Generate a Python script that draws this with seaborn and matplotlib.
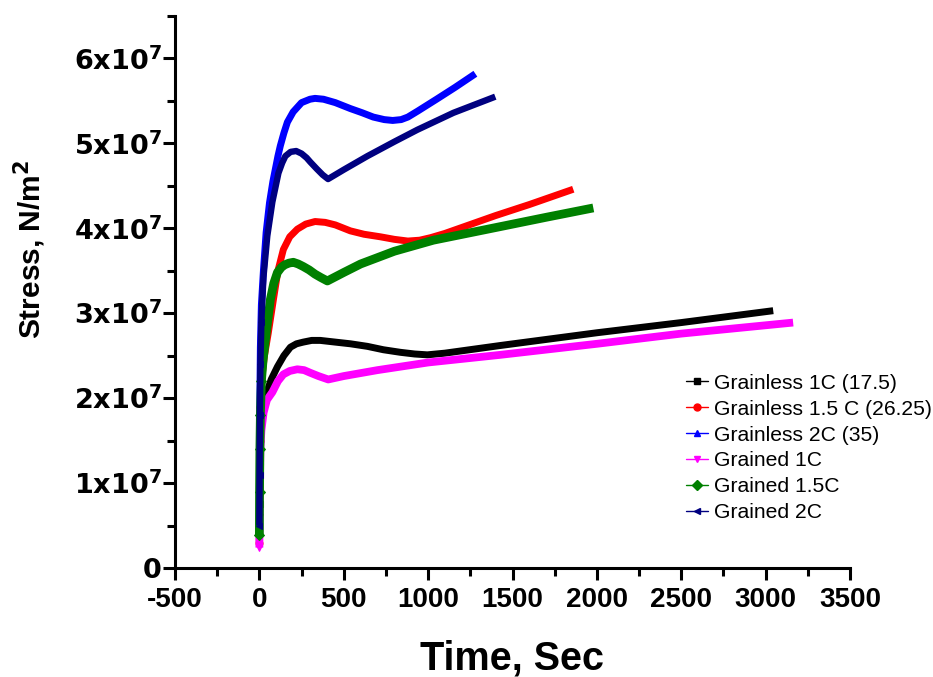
import numpy as np
import pandas as pd
import matplotlib
matplotlib.use("Agg")
import matplotlib.pyplot as plt
import seaborn as sns
from matplotlib.lines import Line2D
from matplotlib.ticker import MultipleLocator, FuncFormatter


# -----------------------------
# 1. Data (time in s, stress in x10^7 N/m^2)
# -----------------------------
labels = [
    "Grainless 1C (17.5)",
    "Grainless 1.5 C (26.25)",
    "Grainless 2C (35)",
    "Grained 1C",
    "Grained 1.5C",
    "Grained 2C",
]

t_grainless_1c = [0, 1, 3, 6, 10, 18, 36, 70, 107, 145, 184, 220, 260, 310, 361, 450, 540, 640, 735, 835, 920, 995, 1100, 1428, 2000, 2500, 3045]
s_grainless_1c = [0.30, 0.75, 1.20, 1.50, 1.70, 1.88, 2.02, 2.22, 2.37, 2.50, 2.60, 2.64, 2.66, 2.68, 2.68, 2.66, 2.64, 2.61, 2.57, 2.54, 2.52, 2.51, 2.53, 2.62, 2.77, 2.89, 3.03]

t_grainless_15c = [0, 1, 3, 6, 12, 30, 53, 83, 110, 142, 180, 225, 275, 330, 390, 450, 539, 620, 717, 800, 880, 950, 1015, 1100, 1200, 1400, 1600, 1860]
s_grainless_15c = [0.30, 0.90, 1.50, 1.90, 2.20, 2.50, 2.77, 3.16, 3.50, 3.75, 3.90, 3.99, 4.05, 4.08, 4.07, 4.04, 3.97, 3.93, 3.90, 3.87, 3.85, 3.86, 3.89, 3.94, 4.01, 4.15, 4.28, 4.46]

t_grainless_2c = [0, 1, 3, 6, 12, 24, 40, 60, 80, 95, 110, 124, 145, 166, 200, 250, 300, 330, 380, 450, 539, 610, 675, 740, 790, 840, 880, 938, 1050, 1160, 1280]
s_grainless_2c = [0.54, 1.20, 2.00, 2.60, 3.10, 3.50, 3.95, 4.30, 4.55, 4.70, 4.85, 4.97, 5.12, 5.25, 5.37, 5.48, 5.52, 5.53, 5.52, 5.48, 5.41, 5.36, 5.31, 5.28, 5.27, 5.28, 5.31, 5.38, 5.52, 5.66, 5.82]

t_grained_1c = [0, 1, 3, 6, 12, 25, 45, 77, 110, 142, 180, 225, 265, 300, 350, 408, 500, 700, 1000, 1428, 2000, 2500, 3163]
s_grained_1c = [0.24, 0.60, 1.00, 1.40, 1.62, 1.83, 1.98, 2.07, 2.20, 2.28, 2.32, 2.34, 2.33, 2.30, 2.26, 2.22, 2.26, 2.33, 2.42, 2.51, 2.64, 2.76, 2.89]

t_grained_15c = [0, 1, 3, 6, 12, 22, 36, 65, 85, 107, 130, 150, 175, 201, 230, 260, 295, 330, 365, 403, 500, 600, 800, 1031, 1428, 1700, 1979]
s_grained_15c = [0.39, 0.90, 1.40, 1.80, 2.20, 2.45, 2.69, 3.16, 3.35, 3.48, 3.54, 3.57, 3.59, 3.60, 3.58, 3.55, 3.51, 3.46, 3.42, 3.38, 3.48, 3.58, 3.73, 3.86, 4.02, 4.13, 4.24]

t_grained_2c = [0, 1, 3, 6, 12, 24, 47, 77, 113, 135, 154, 185, 218, 250, 280, 302, 340, 375, 407, 500, 640, 800, 936, 1150, 1398]
s_grained_2c = [0.50, 1.10, 1.80, 2.40, 2.90, 3.42, 3.91, 4.31, 4.65, 4.77, 4.85, 4.90, 4.91, 4.88, 4.83, 4.78, 4.70, 4.63, 4.58, 4.69, 4.85, 5.02, 5.16, 5.36, 5.55]

times = [t_grainless_1c, t_grainless_15c, t_grainless_2c, t_grained_1c, t_grained_15c, t_grained_2c]
stresses = [s_grainless_1c, s_grainless_15c, s_grainless_2c, s_grained_1c, s_grained_15c, s_grained_2c]

colors = ["#000000", "#ff0000", "#0000ff", "#ff00ff", "#008000", "#000080"]
markers = ["s", "o", "^", "v", "D", "<"]
widths = [5.0, 5.0, 5.0, 5.6, 6.3, 4.6]


# -----------------------------
# 2. Plot
# -----------------------------
sns.set_style("ticks")
plt.rcParams["font.family"] = ["Liberation Sans", "DejaVu Sans"]
plt.rcParams["mathtext.fontset"] = "custom"
plt.rcParams["mathtext.rm"] = "DejaVu Sans:bold"
plt.rcParams["mathtext.it"] = "DejaVu Sans:bold"
plt.rcParams["mathtext.bf"] = "DejaVu Sans:bold"
plt.rcParams["axes.unicode_minus"] = False
for k in ["text.color", "axes.labelcolor", "xtick.color", "ytick.color", "axes.edgecolor"]:
    plt.rcParams[k] = "black"

fig = plt.figure(figsize=(9.33, 6.77), dpi=100)
ax = fig.add_axes([175 / 933, 1 - 568 / 677, (850 - 175) / 933, (568 - 16) / 677])

for t, s, c, m, w, lab in zip(times, stresses, colors, markers, widths, labels):
    df = pd.DataFrame({"time": t, "stress": np.array(s) * 1e7})
    sns.lineplot(data=df, x="time", y="stress", ax=ax, color=c, linewidth=w,
                 sort=False, estimator=None, marker=m, markersize=5,
                 markevery=slice(0, 5), markeredgecolor=c, label=lab,
                 solid_capstyle="butt", solid_joinstyle="round")

ax.set_xlim(-500, 3500)
ax.set_ylim(0, 6.5e7)
ax.xaxis.set_major_locator(MultipleLocator(500))
ax.xaxis.set_minor_locator(MultipleLocator(250))
ax.yaxis.set_major_locator(MultipleLocator(1e7))
ax.yaxis.set_minor_locator(MultipleLocator(0.5e7))


def ytick_fmt(v, pos):
    n = int(round(v / 1e7))
    if n == 0:
        return "0"
    return f"{n}x10$^{{7}}$"


ax.yaxis.set_major_formatter(FuncFormatter(ytick_fmt))

sns.despine(ax=ax)
for sp in ["left", "bottom"]:
    ax.spines[sp].set_linewidth(2.2)

ax.tick_params(which="major", direction="out", length=8.5, width=2.2)
ax.tick_params(which="minor", direction="out", length=5.5, width=2.2)
ax.tick_params(axis="x", which="major", pad=5, labelsize=20)
ax.tick_params(axis="y", which="major", pad=1, labelsize=19.5)
for lbl in ax.get_xticklabels():
    lbl.set_fontweight("bold")
for lbl in ax.get_yticklabels():
    lbl.set_fontweight("bold")
    lbl.set_family("DejaVu Sans")

ax.set_xlabel("Time, Sec", fontsize=28.5, fontweight="bold", labelpad=19)
ax.set_ylabel("Stress, N/m$^{2}$", fontsize=21.5, fontweight="bold")
ax.yaxis.set_label_coords(-0.188, 0.578)

handles = [Line2D([0], [0], color=c, lw=1, marker=m, markersize=5)
           for c, m in zip(colors, markers)]
ax.legend(handles, labels, loc="center left", frameon=False,
          bbox_to_anchor=(686 / 933, 1 - 448 / 677), bbox_transform=fig.transFigure,
          fontsize=15.2, handlelength=1.05, handletextpad=0.3, labelspacing=0.33,
          borderpad=0, borderaxespad=0)

plt.savefig("out.png", dpi=100)
